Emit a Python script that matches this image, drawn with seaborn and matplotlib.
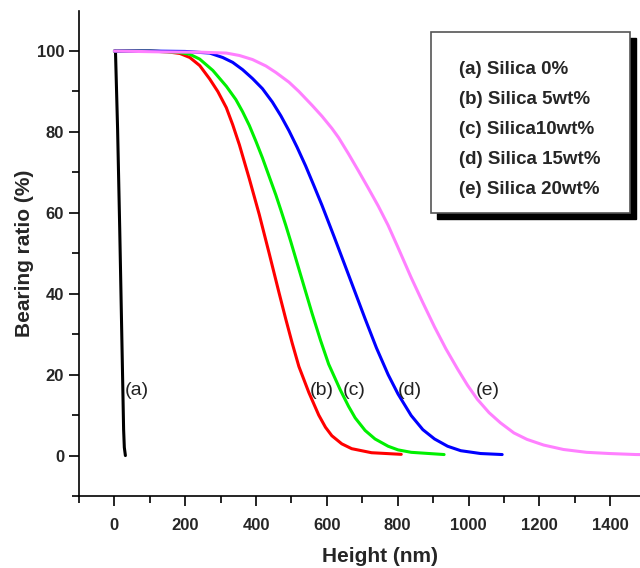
import numpy as np
import pandas as pd
import matplotlib
matplotlib.use("Agg")
import matplotlib.pyplot as plt
import seaborn as sns
from matplotlib.patches import Rectangle
from matplotlib.ticker import MultipleLocator

# ---------------- data ----------------
series_names = ["(a) Silica 0%", "(b) Silica 5wt%", "(c) Silica10wt%",
                "(d) Silica 15wt%", "(e) Silica 20wt%"]
curve_tags = ["(a)", "(b)", "(c)", "(d)", "(e)"]
colors = ["#000000", "#ff0000", "#00f000", "#0000ff", "#ff80ff"]

height_a = [3, 9, 15, 19, 23, 26, 28, 31]
ratio_a = [100, 80.7, 56, 38, 20, 6.4, 2, 0]

height_b = [0, 100, 150, 185, 213, 241, 269, 292, 316, 334, 353, 367, 381,
            395, 409, 423, 437, 451, 465, 484, 502, 521, 549, 577, 596, 614,
            642, 670, 726, 810]
ratio_b = [100, 100, 99.8, 99.4, 98.4, 96.4, 93.1, 90.0, 86.0, 81.8, 76.8,
           72.6, 68.4, 64.0, 59.6, 54.8, 50.0, 45.1, 40.2, 33.7, 27.8, 22.0,
           15.6, 10.0, 7.0, 4.9, 2.9, 1.7, 0.7, 0.3]

height_c = [0, 100, 180, 213, 241, 278, 316, 343, 362, 381, 400, 418, 437,
            456, 470, 484, 498, 521, 540, 558, 582, 605, 638, 661, 680, 708,
            736, 773, 801, 838, 931]
ratio_c = [100, 100, 99.7, 99.2, 98.0, 95.2, 91.3, 88.0, 85.0, 81.6, 77.6,
           73.6, 69.0, 64.4, 60.7, 56.9, 52.9, 46.1, 40.5, 35.2, 28.5, 22.6,
           16.2, 12.2, 9.3, 6.2, 4.1, 2.3, 1.4, 0.8, 0.25]

height_d = [0, 100, 200, 269, 306, 334, 362, 390, 418, 446, 470, 493, 516,
            540, 563, 586, 605, 620, 652, 680, 708, 740, 773, 801, 838, 871,
            904, 941, 978, 1034, 1095]
ratio_d = [100, 100, 99.9, 99.5, 98.4, 97.2, 95.4, 93.2, 90.7, 87.4, 84.0,
           80.3, 76.2, 71.6, 66.8, 61.9, 57.6, 54.2, 46.8, 40.3, 33.8, 26.6,
           20.0, 15.2, 9.9, 6.4, 4.1, 2.3, 1.2, 0.5, 0.25]

height_e = [0, 129, 250, 316, 353, 390, 428, 456, 493, 521, 558, 586, 614,
            633, 661, 689, 717, 745, 773, 800, 820, 838, 871, 904, 936, 969,
            997, 1025, 1058, 1090, 1128, 1165, 1212, 1268, 1333, 1398, 1473,
            1540]
ratio_e = [100, 99.8, 99.7, 99.5, 98.9, 97.9, 96.3, 94.7, 92.3, 90.0, 86.6,
           83.9, 80.9, 78.6, 74.6, 70.4, 66.1, 61.7, 56.9, 51.6, 47.6, 44.0,
           37.8, 31.8, 26.4, 21.4, 17.4, 13.9, 10.6, 8.1, 5.6, 4.0, 2.6, 1.5,
           0.8, 0.5, 0.25, 0.2]

tag_x = [64, 585, 678, 834, 1053]
tag_y = [16, 16, 16, 16, 16]
xtick_values = [0, 200, 400, 600, 800, 1000, 1200, 1400]

heights = [height_a, height_b, height_c, height_d, height_e]
ratios = [ratio_a, ratio_b, ratio_c, ratio_d, ratio_e]

df = pd.concat([
    pd.DataFrame({"Height": h, "Ratio": r, "Sample": name})
    for h, r, name in zip(heights, ratios, series_names)
], ignore_index=True)

# ---------------- style ----------------
sns.set_style("ticks")
plt.rcParams["font.family"] = ["Liberation Sans", "DejaVu Sans"]

W, H = 640, 568
fig = plt.figure(figsize=(W / 100, H / 100), dpi=100)
ax_left, ax_right, ax_top, ax_bottom = 79, 681, 11, 496
ax = fig.add_axes([ax_left / W, (H - ax_bottom) / H,
                   (ax_right - ax_left) / W, (ax_bottom - ax_top) / H])

sns.lineplot(data=df, x="Height", y="Ratio", hue="Sample",
             hue_order=series_names, palette=colors, estimator=None,
             sort=False, linewidth=2.2, ax=ax, legend=True)

ax.set_xlim(-100, 1600)
ax.set_ylim(-10, 109.9)
ax.set_xticks(xtick_values)
ax.xaxis.set_minor_locator(MultipleLocator(100))
ax.yaxis.set_major_locator(MultipleLocator(20))
ax.yaxis.set_minor_locator(MultipleLocator(10))
ax.tick_params(which="major", length=7.2, width=1.2, direction="out",
               labelsize=12, color="black")
ax.tick_params(which="minor", length=5, width=1.2, direction="out",
               color="black")
ax.tick_params(axis="x", which="major", pad=8.5)
ax.tick_params(axis="y", which="major", pad=3.5)
for lab in ax.get_xticklabels() + ax.get_yticklabels():
    lab.set_fontweight("bold")
for s in ["top", "right"]:
    ax.spines[s].set_visible(False)
for s in ["left", "bottom"]:
    ax.spines[s].set_linewidth(1.2)
    ax.spines[s].set_color("black")

ax.set_xlabel("Height (nm)", fontsize=15, fontweight="bold", labelpad=10)
ax.set_ylabel("Bearing ratio (%)", fontsize=15, fontweight="bold", labelpad=2)

# curve tags
for t, x, y in zip(curve_tags, tag_x, tag_y):
    ax.text(x, y, t, fontsize=14, ha="center", va="center", color="#222222")

# legend box with drop shadow
handles, labels = ax.get_legend_handles_labels()
ax.get_legend().remove()
bx0, by0, bx1, by1 = 431, 32, 630, 213
off = 6
shadow = Rectangle(((bx0 + off) / W, (H - by1 - off) / H), (bx1 - bx0) / W,
                   (by1 - by0) / H, transform=fig.transFigure,
                   facecolor="black", edgecolor="black", zorder=4.7)
box = Rectangle((bx0 / W, (H - by1) / H), (bx1 - bx0) / W, (by1 - by0) / H,
                transform=fig.transFigure, facecolor="white",
                edgecolor="#555555", linewidth=1.2, zorder=4.8)
ax.add_patch(shadow)
ax.add_patch(box)
shadow.set_clip_on(False)
box.set_clip_on(False)
leg = ax.legend(handles, labels, loc="upper left",
                bbox_to_anchor=(459 / W, (H - 61) / H),
                bbox_transform=fig.transFigure, frameon=False,
                handlelength=0, handletextpad=0, borderpad=0,
                borderaxespad=0, labelspacing=0.69,
                prop={"weight": "bold", "size": 13.5})
for h in leg.legend_handles:
    h.set_visible(False)
leg.set_zorder(5)

fig.savefig("out.png", dpi=100)
